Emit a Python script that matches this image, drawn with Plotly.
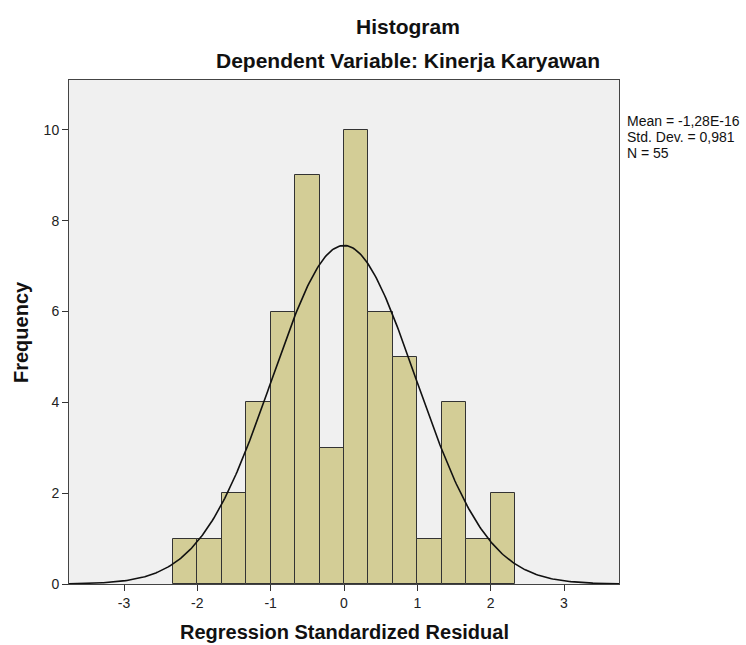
import numpy as np
import plotly.graph_objects as go

# Data
bin_left_edges = [-7/3, -2, -5/3, -4/3, -1, -2/3, -1/3, 0, 1/3, 2/3, 1, 4/3, 5/3, 2]
bin_width = 1/3
frequencies = [1, 1, 2, 4, 6, 9, 3, 10, 6, 5, 1, 4, 1, 2]
x_ticks = [-3, -2, -1, 0, 1, 2, 3]
y_ticks = [0, 2, 4, 6, 8, 10]
mean_val = -1.28e-16
std_val = 0.981
n_val = 55
stats_lines = ["Mean = -1,28E-16", "Std. Dev. = 0,981", "N = 55"]

bin_centers = [e + bin_width / 2 for e in bin_left_edges]

# Fitted normal curve (from the stats shown)
xc = np.linspace(-3.75, 3.75, 400)
yc = n_val * bin_width * np.exp(-0.5 * ((xc - mean_val) / std_val) ** 2) / (std_val * np.sqrt(2 * np.pi))

FONT = "Liberation Sans, Arial, sans-serif"
TXT = "#111111"

fig = go.Figure()
fig.add_trace(go.Bar(
    x=bin_centers, y=frequencies, width=[bin_width] * len(frequencies),
    marker=dict(color="#d3cd96", line=dict(color="#333333", width=1)),
    showlegend=False, hoverinfo="skip"))
fig.add_trace(go.Scatter(
    x=xc, y=yc, mode="lines", line=dict(color="#111111", width=1.6),
    showlegend=False, hoverinfo="skip"))

fig.update_layout(
    width=746, height=645,
    margin=dict(l=69, r=127, t=80, b=61),
    paper_bgcolor="white", plot_bgcolor="#f0f0f0",
    font=dict(family=FONT, size=14, color="#222222"),
    bargap=0,
    xaxis=dict(range=[-3.75, 3.75], tickvals=x_ticks, ticktext=[str(v) for v in x_ticks],
               ticks="outside", ticklen=6, tickcolor="#333333", showgrid=False, zeroline=False,
               showline=True, linecolor="#444444", linewidth=1, mirror=True,
               tickfont=dict(size=14, color="#222222")),
    yaxis=dict(range=[0, 11.1], tickvals=y_ticks, ticktext=[str(v) for v in y_ticks],
               ticks="outside", ticklen=6, tickcolor="#333333", showgrid=False, zeroline=False,
               showline=True, linecolor="#444444", linewidth=1, mirror=True,
               tickfont=dict(size=14, color="#222222")),
)

# Titles
fig.add_annotation(text="<b>Histogram</b>", xref="paper", yref="paper", x=0.616, y=1.0,
                   yshift=54, showarrow=False, font=dict(size=21, color=TXT), xanchor="center", yanchor="middle")
fig.add_annotation(text="<b>Dependent Variable: Kinerja Karyawan</b>", xref="paper", yref="paper", x=0.616, y=1.0,
                   yshift=20, showarrow=False, font=dict(size=21, color=TXT), xanchor="center", yanchor="middle")
# Axis titles
fig.add_annotation(text="<b>Regression Standardized Residual</b>", xref="paper", yref="paper", x=0.5, y=0.0,
                   yshift=-48, showarrow=False, font=dict(size=20, color=TXT), xanchor="center", yanchor="middle")
fig.add_annotation(text="<b>Frequency</b>", xref="paper", yref="paper", x=0.0, xshift=-48, y=0.5,
                   textangle=-90, showarrow=False, font=dict(size=20, color=TXT), xanchor="center", yanchor="middle")
# Statistics box
for i, line in enumerate(stats_lines):
    fig.add_annotation(text=line, xref="paper", yref="paper", x=1.0, xshift=6, y=1.0,
                       yshift=-(41 + 16 * i), showarrow=False, align="left",
                       xanchor="left", yanchor="middle", font=dict(size=14, color=TXT))

fig.write_html("out.html", config={"displayModeBar": False},
               post_script="document.body.style.margin='0';document.body.style.overflow='hidden';")
